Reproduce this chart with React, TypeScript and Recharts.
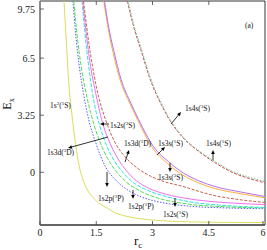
import { LineChart, Line, XAxis, YAxis, ReferenceArea } from 'recharts';

// 1s2(1S)
const rcGround = [0.64, 0.7, 0.77, 0.85, 0.95, 1.05, 1.15, 1.25, 1.4, 1.6, 1.8, 2.0, 2.3, 2.7, 3.2, 4, 5, 6];
const eGround = [9.75, 7.5, 5.0, 3.3, 1.6, 0.3, -0.45, -0.95, -1.4, -1.8, -2.05, -2.3, -2.5, -2.65, -2.75, -2.82, -2.85, -2.86];

// 1s2p(3P)
const rcBlue = [0.88, 0.95, 1.05, 1.15, 1.3, 1.5, 1.75, 2.0, 2.3, 2.7, 3.2, 4, 5, 6];
const eBlue = [9.75, 7.9, 6.0, 4.6, 3.0, 1.6, 0.3, -0.4, -0.95, -1.4, -1.7, -1.93, -2.03, -2.07];

// 1s2p(1P)
const rcGreen = [0.9, 1.0, 1.1, 1.2, 1.35, 1.55, 1.8, 2.05, 2.3, 2.7, 3.2, 4, 5, 6];
const eGreen = [9.75, 7.6, 6.0, 4.8, 3.4, 2.0, 0.8, 0.0, -0.55, -1.1, -1.5, -1.82, -1.97, -2.03];

// 1s2s(1S)
const rcCyan = [1.12, 1.2, 1.3, 1.4, 1.5, 1.6, 1.8, 2.0, 2.25, 2.5, 2.9, 3.4, 4, 5, 6];
const eCyan = [9.75, 7.9, 6.0, 4.5, 3.4, 2.6, 1.4, 0.6, -0.1, -0.6, -1.05, -1.4, -1.68, -1.9, -2.0];

// 1s3d(1D)
const rcPink = [1.14, 1.25, 1.35, 1.46, 1.67, 1.9, 2.1, 2.3, 2.5, 2.8, 3.2, 3.8, 4.5, 5.2, 6];
const ePink = [9.75, 7.6, 6.0, 4.76, 2.8, 1.5, 0.7, 0.1, -0.35, -0.8, -1.15, -1.45, -1.65, -1.76, -1.84];

// 1s2s(3S) / 1s3d(3D)
const rcBrown = [1.16, 1.3, 1.5, 1.78, 2.0, 2.26, 2.5, 2.8, 3.2, 3.8, 4.6, 5.3, 6];
const eBrown = [9.75, 7.4, 4.9, 2.8, 1.7, 0.9, 0.4, -0.05, -0.45, -0.8, -1.3, -1.55, -1.72];

// 1s3s(3S)
const rcOrange = [1.7, 1.8, 1.95, 2.13, 2.4, 2.6, 3.0, 3.4, 3.8, 4.2, 4.67, 5.3, 6];
const eOrange = [9.75, 8.4, 6.8, 5.3, 3.9, 3.0, 1.4, 0.5, -0.15, -0.58, -0.93, -1.2, -1.45];

// 1s3s(1S)
const rcViolet = [1.72, 1.82, 1.98, 2.16, 2.43, 2.63, 3.03, 3.43, 3.83, 4.23, 4.7, 5.3, 6];
const eViolet = [9.75, 8.4, 6.8, 5.3, 3.9, 3.0, 1.45, 0.6, -0.05, -0.48, -0.83, -1.1, -1.38];

// 1s4s(3S) / 1s4s(1S)
const rcRed4s = [2.33, 2.47, 2.7, 2.92, 3.27, 3.48, 3.8, 4.25, 4.7, 5.12, 5.5, 6];
const eRed4s = [9.75, 8.5, 6.9, 5.4, 3.7, 2.9, 2.0, 1.16, 0.5, 0.0, -0.3, -0.6];
const rcGreen4s = [2.35, 2.49, 2.72, 2.94, 3.29, 3.5, 3.82, 4.27, 4.72, 5.14, 5.52, 6];
const eGreen4s = [9.75, 8.5, 6.9, 5.4, 3.7, 2.9, 2.0, 1.18, 0.55, 0.05, -0.24, -0.53];

const xTicks = [0, 1.5, 3, 4.5, 6];
const yTicks = [0, 3.25, 6.5, 9.75];

const toRows = (rc: number[], e: number[]) => rc.map((r, i) => ({ rc: r, e: e[i] }));

const series = [
  { id: 'ground', rows: toRows(rcGround, eGround), color: '#dcdc5c', dash: undefined },
  { id: 'blue', rows: toRows(rcBlue, eBlue), color: '#5a5aff', dash: '1.5 1.5' },
  { id: 'green', rows: toRows(rcGreen, eGreen), color: '#4ee04e', dash: '4 1.5' },
  { id: 'cyan', rows: toRows(rcCyan, eCyan), color: '#30e0e0', dash: '4 1.5' },
  { id: 'pink', rows: toRows(rcPink, ePink), color: '#f070f0', dash: undefined },
  { id: 'brown', rows: toRows(rcBrown, eBrown), color: '#c8604a', dash: '3 1.5' },
  { id: 'orange', rows: toRows(rcOrange, eOrange), color: '#ffae3c', dash: undefined },
  { id: 'violet', rows: toRows(rcViolet, eViolet), color: '#b070f0', dash: undefined },
  { id: 'red4s', rows: toRows(rcRed4s, eRed4s), color: '#d05050', dash: '3 1.5' },
  { id: 'green4s', rows: toRows(rcGreen4s, eGreen4s), color: '#70c090', dash: '1.5 1.5' },
];

const FONT = '"Liberation Serif", "DejaVu Serif", serif';

const XTick = (props: any) => {
  const { x, y, payload } = props;
  return (
    <g>
      <line x1={x} x2={x} y1={y - 3} y2={y - 7} stroke="#444" strokeWidth={0.8} />
      <text x={x} y={y} dy="0.78em" textAnchor="middle" fontSize={10} fontFamily={FONT} fill="#222">
        {payload.value}
      </text>
    </g>
  );
};

const YTick = (props: any) => {
  const { x, y, payload } = props;
  return (
    <g>
      <line x1={x + 5} x2={x + 9} y1={y} y2={y} stroke="#444" strokeWidth={0.8} />
      <text x={x} y={y} dy="0.35em" textAnchor="end" fontSize={10} fontFamily={FONT} fill="#222">
        {payload.value}
      </text>
    </g>
  );
};

const Arrow = ({ x1, y1, x2, y2 }: { x1: number; y1: number; x2: number; y2: number }) => {
  const a = Math.atan2(y2 - y1, x2 - x1);
  const L = 4;
  const w = 1.8;
  const bx = x2 - L * Math.cos(a);
  const by = y2 - L * Math.sin(a);
  const p1 = `${bx + w * Math.sin(a)},${by - w * Math.cos(a)}`;
  const p2 = `${bx - w * Math.sin(a)},${by + w * Math.cos(a)}`;
  return (
    <g>
      <line x1={x1} y1={y1} x2={bx} y2={by} stroke="#000" strokeWidth={0.8} />
      <polygon points={`${x2},${y2} ${p1} ${p2}`} fill="#000" />
    </g>
  );
};

const Lbl = ({ x, y, main, sup, term }: { x: number; y: number; main: string; sup: string; term: string }) => (
  <text x={x} y={y} fontSize={7.5} fontFamily={FONT} fill="#111">
    {main}(<tspan fontSize={5} dy={-3}>{sup}</tspan>
    <tspan dy={3}>{term})</tspan>
  </text>
);

export default function App() {
  return (
    <div style={{ position: 'relative', width: 267, height: 250 }}>
      <style>{'body{margin:0}'}</style>
      <LineChart width={267} height={250} margin={{ top: 1, right: 2, bottom: 0, left: 0 }}>
        <ReferenceArea x1={0} x2={6} y1={-3} y2={9.75} fill="none" stroke="#000" strokeWidth={0.8} />
        <XAxis
          type="number"
          dataKey="rc"
          domain={[0, 6]}
          ticks={xTicks}
          height={25}
          tickSize={0}
          tickMargin={3}
          tick={<XTick />}
          axisLine={{ stroke: '#555', strokeWidth: 1.5 }}
          allowDataOverflow
        />
        <YAxis
          type="number"
          domain={[-3, 9.75]}
          ticks={yTicks}
          width={40}
          tickSize={0}
          tickMargin={5}
          tick={<YTick />}
          axisLine={{ stroke: '#888', strokeWidth: 1.5 }}
          allowDataOverflow
        />
        {series.map((s) => (
          <Line
            key={s.id}
            data={s.rows}
            dataKey="e"
            type="monotone"
            stroke={s.color}
            strokeWidth={1}
            strokeDasharray={s.dash}
            dot={false}
            activeDot={false}
            isAnimationActive={false}
          />
        ))}
      </LineChart>
      <svg width={267} height={250} style={{ position: 'absolute', left: 0, top: 0, pointerEvents: 'none' }}>
        {[96.3, 152.5, 208.8].map((x) => (
          <line key={x} x1={x} x2={x} y1={1} y2={5} stroke="#444" strokeWidth={0.8} />
        ))}
        <text transform="translate(11,104) rotate(-90)" fontSize={12} fontFamily={FONT} textAnchor="middle" fill="#111">
          E<tspan fontSize={8} dy={3}>x</tspan>
        </text>
        <text x={134} y={245} fontSize={13} fontFamily={FONT} fill="#111">
          r<tspan fontSize={9} dy={3}>c</tspan>
        </text>
        <text x={245} y={28} fontSize={7.5} fontFamily={FONT} fill="#111">(a)</text>

        <Arrow x1={109} y1={124} x2={100} y2={124} />
        <Arrow x1={108} y1={137} x2={68} y2={148} />
        <Arrow x1={125} y1={162} x2={129} y2={150} />
        <Arrow x1={157} y1={155} x2={165} y2={147} />
        <Arrow x1={170} y1={163} x2={170} y2={172} />
        <Arrow x1={171} y1={124} x2={181} y2={112} />
        <Arrow x1={213} y1={160} x2={213} y2={150} />
        <Arrow x1={107} y1={172} x2={107} y2={187} />
        <Arrow x1={133} y1={190} x2={133} y2={199} />
        <Arrow x1={175} y1={198} x2={175} y2={207} />

        <text x={50} y={108} fontSize={7.5} fontFamily={FONT} fill="#111">
          1s<tspan fontSize={5} dy={-3}>2</tspan>
          <tspan dy={3}>(</tspan>
          <tspan fontSize={5} dy={-3}>1</tspan>
          <tspan dy={3}>S)</tspan>
        </text>
        <Lbl x={110} y={128} main="1s2s" sup="3" term="S" />
        <Lbl x={47} y={155} main="1s3d" sup="3" term="D" />
        <Lbl x={124} y={146} main="1s3d" sup="1" term="D" />
        <Lbl x={158} y={146} main="1s3s" sup="1" term="S" />
        <Lbl x={158} y={180} main="1s3s" sup="3" term="S" />
        <Lbl x={185} y={111} main="1s4s" sup="3" term="S" />
        <Lbl x={206} y={146} main="1s4s" sup="1" term="S" />
        <Lbl x={98} y={201} main="1s2p" sup="3" term="P" />
        <Lbl x={128} y={209} main="1s2p" sup="1" term="P" />
        <Lbl x={163} y={217} main="1s2s" sup="1" term="S" />
      </svg>
    </div>
  );
}
